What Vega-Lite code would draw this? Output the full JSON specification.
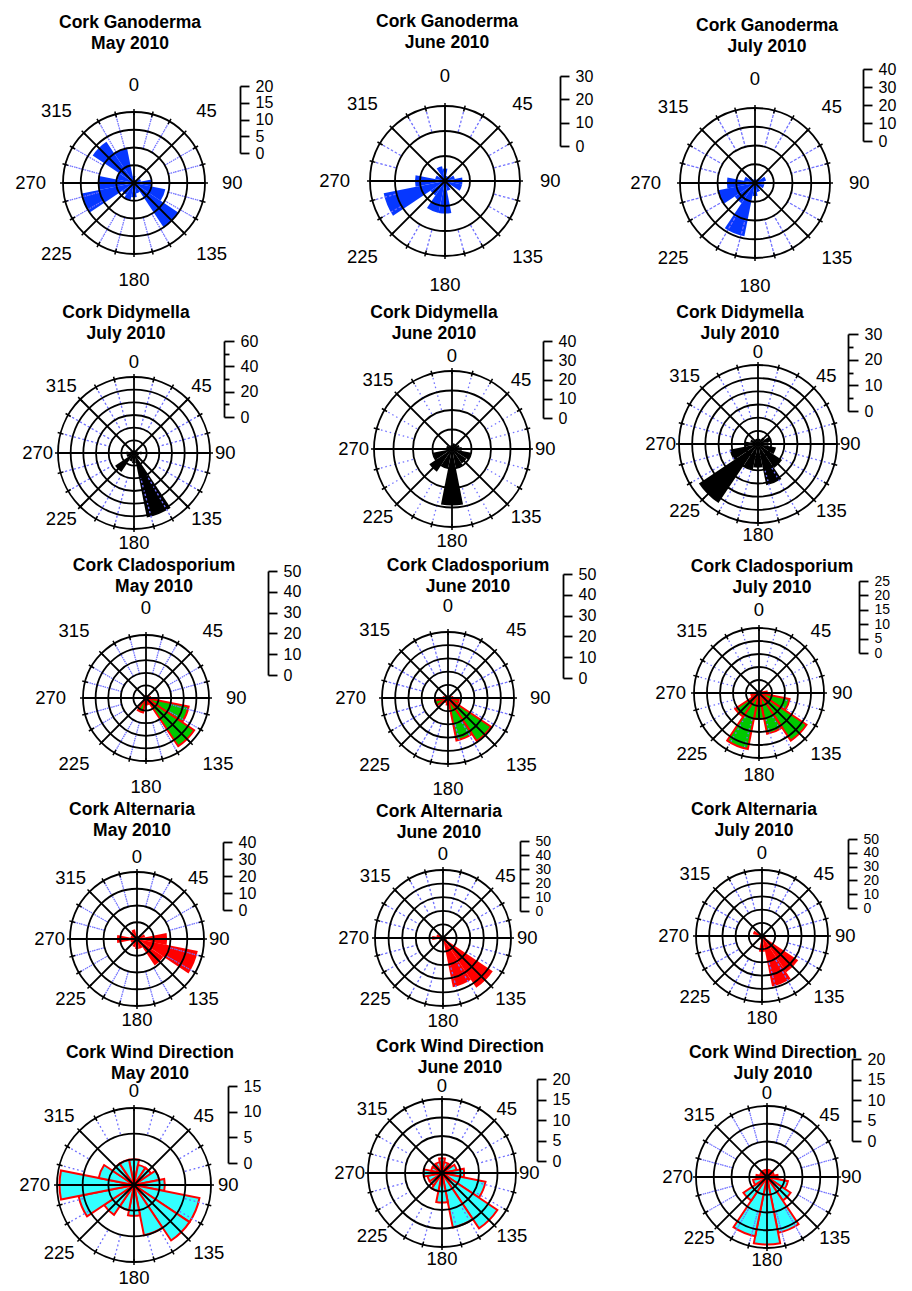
{
"$schema": "https://vega.github.io/schema/vega-lite/v6.json",
"padding": {"left": 12, "top": 12, "right": 2, "bottom": 0},
"config": {
  "font": "Liberation Sans",
  "view": {"stroke": null},
  "title": {"fontSize": 17.5, "fontWeight": "bold", "lineHeight": 21, "anchor": "middle", "frame": "group", "color": "black"},
  "axis": {"domainColor": "black", "domainWidth": 1.8, "tickColor": "black", "tickWidth": 1.8, "tickSize": 9, "labelFontSize": 16, "labelColor": "black", "labelPadding": 6, "labelOverlap": false, "labelFlush": false, "grid": false}
},
"datasets": {
  "major": [{"deg":0},{"deg":45},{"deg":90},{"deg":135},{"deg":180},{"deg":225},{"deg":270},{"deg":315}],
  "minor": [{"deg":15},{"deg":30},{"deg":60},{"deg":75},{"deg":105},{"deg":120},{"deg":150},{"deg":165},{"deg":195},{"deg":210},{"deg":240},{"deg":255},{"deg":285},{"deg":300},{"deg":330},{"deg":345}],
  "ticks": [{"deg":0},{"deg":15},{"deg":30},{"deg":45},{"deg":60},{"deg":75},{"deg":90},{"deg":105},{"deg":120},{"deg":135},{"deg":150},{"deg":165},{"deg":180},{"deg":195},{"deg":210},{"deg":225},{"deg":240},{"deg":255},{"deg":270},{"deg":285},{"deg":300},{"deg":315},{"deg":330},{"deg":345}]
},
"columns": 3,
"spacing": 0,
"bounds": "flush",
"align": "each",
"concat": [
{"width":244,"height":252,"title":{"text":["Cork Ganoderma","May 2010"],"offset":5,"dx":-4},"layer":[
{"data":{"values":[{"from":-11.25,"to":11.25,"count":2},{"from":11.25,"to":33.75,"count":1},{"from":33.75,"to":56.25,"count":1},{"from":56.25,"to":78.75,"count":2},{"from":78.75,"to":101.25,"count":5},{"from":101.25,"to":123.75,"count":9},{"from":123.75,"to":146.25,"count":15},{"from":146.25,"to":168.75,"count":3},{"from":168.75,"to":191.25,"count":4},{"from":191.25,"to":213.75,"count":5},{"from":213.75,"to":236.25,"count":4},{"from":236.25,"to":258.75,"count":15},{"from":258.75,"to":281.25,"count":10},{"from":281.25,"to":303.75,"count":5},{"from":303.75,"to":326.25,"count":14},{"from":326.25,"to":348.75,"count":10}]},"mark":{"type":"arc","fill":"#0637ff","stroke":null},"encoding":{"theta":{"field":"from","type":"quantitative","scale":{"type":"linear","domain":[0,360],"range":[0,6.283185307179586],"nice":false,"zero":false},"stack":null},"theta2":{"field":"to"},"radius":{"field":"count","type":"quantitative","stack":null,"scale":{"type":"linear","domain":[0,20],"range":[0,71],"nice":false,"zero":true}}}},
{"data":{"name":"minor"},"mark":{"type":"arc","fill":"transparent","stroke":"#7070ff","strokeWidth":1.3,"strokeDash":[1.5,3]},"encoding":{"theta":{"field":"deg","type":"quantitative","scale":{"type":"linear","domain":[0,360],"range":[0,6.283185307179586],"nice":false,"zero":false},"stack":null},"theta2":{"field":"deg"},"radius":{"datum":20,"type":"quantitative","stack":null,"scale":{"type":"linear","domain":[0,20],"range":[0,71],"nice":false,"zero":true}},"radius2":{"datum":10}}},
{"data":{"values":[{"ring":5},{"ring":10},{"ring":15},{"ring":20}]},"mark":{"type":"arc","fill":"transparent","stroke":"black","strokeWidth":1.8},"encoding":{"theta":{"datum":0,"type":"quantitative","stack":null,"scale":{"type":"linear","domain":[0,360],"range":[0,6.283185307179586],"nice":false,"zero":false}},"theta2":{"datum":360},"radius":{"field":"ring","type":"quantitative","stack":null,"scale":{"type":"linear","domain":[0,20],"range":[0,71],"nice":false,"zero":true}}}},
{"data":{"name":"major"},"mark":{"type":"arc","fill":"transparent","stroke":"black","strokeWidth":1.8},"encoding":{"theta":{"field":"deg","type":"quantitative","scale":{"type":"linear","domain":[0,360],"range":[0,6.283185307179586],"nice":false,"zero":false},"stack":null},"theta2":{"field":"deg"},"radius":{"datum":20,"type":"quantitative","stack":null,"scale":{"type":"linear","domain":[0,20],"range":[0,71],"nice":false,"zero":true}},"radius2":{"datum":0}}},
{"data":{"name":"ticks"},"mark":{"type":"arc","fill":"transparent","stroke":"black","strokeWidth":1.5,"radiusOffset":3,"radius2Offset":-3},"encoding":{"theta":{"field":"deg","type":"quantitative","scale":{"type":"linear","domain":[0,360],"range":[0,6.283185307179586],"nice":false,"zero":false},"stack":null},"theta2":{"field":"deg"},"radius":{"datum":20,"type":"quantitative","stack":null,"scale":{"type":"linear","domain":[0,20],"range":[0,71],"nice":false,"zero":true}},"radius2":{"datum":20}}},
{"data":{"name":"major"},"mark":{"type":"text","fontSize":18.5,"color":"black","radiusOffset":17,"align":{"expr":"datum.deg == 0 || datum.deg == 180 ? 'center' : (datum.deg < 180 ? 'left' : 'right')"},"baseline":{"expr":"datum.deg == 90 || datum.deg == 270 ? 'middle' : (datum.deg > 90 && datum.deg < 270 ? 'top' : 'bottom')"}},"encoding":{"theta":{"field":"deg","type":"quantitative","scale":{"type":"linear","domain":[0,360],"range":[0,6.283185307179586],"nice":false,"zero":false},"stack":null},"radius":{"datum":20,"type":"quantitative","stack":null,"scale":{"type":"linear","domain":[0,20],"range":[0,71],"nice":false,"zero":true}},"text":{"field":"deg","type":"nominal"}}},
{"data":{"values":[{"v":0}]},"mark":{"type":"point","opacity":0},"encoding":{"y":{"field":"v","type":"quantitative","scale":{"domain":[0,20],"range":[96,29],"nice":false,"zero":false},"axis":{"orient":"right","offset":-16,"values":[0,5,10,15,20],"title":null}}}}
]},
{"width":330,"height":248,"title":{"text":["Cork Ganoderma","June 2010"],"offset":6,"dx":2},"layer":[
{"data":{"values":[{"from":-11.25,"to":11.25,"count":5},{"from":11.25,"to":33.75,"count":2},{"from":33.75,"to":56.25,"count":2},{"from":56.25,"to":78.75,"count":4},{"from":78.75,"to":101.25,"count":7},{"from":101.25,"to":123.75,"count":7},{"from":123.75,"to":146.25,"count":3},{"from":146.25,"to":168.75,"count":4},{"from":168.75,"to":191.25,"count":13},{"from":191.25,"to":213.75,"count":13},{"from":213.75,"to":236.25,"count":7},{"from":236.25,"to":258.75,"count":25},{"from":258.75,"to":281.25,"count":12},{"from":281.25,"to":303.75,"count":4},{"from":303.75,"to":326.25,"count":3},{"from":326.25,"to":348.75,"count":6}]},"mark":{"type":"arc","fill":"#0637ff","stroke":null},"encoding":{"theta":{"field":"from","type":"quantitative","scale":{"type":"linear","domain":[0,360],"range":[0,6.283185307179586],"nice":false,"zero":false},"stack":null},"theta2":{"field":"to"},"radius":{"field":"count","type":"quantitative","stack":null,"scale":{"type":"linear","domain":[0,30],"range":[0,75],"nice":false,"zero":true}}}},
{"data":{"name":"minor"},"mark":{"type":"arc","fill":"transparent","stroke":"#7070ff","strokeWidth":1.3,"strokeDash":[1.5,3]},"encoding":{"theta":{"field":"deg","type":"quantitative","scale":{"type":"linear","domain":[0,360],"range":[0,6.283185307179586],"nice":false,"zero":false},"stack":null},"theta2":{"field":"deg"},"radius":{"datum":30,"type":"quantitative","stack":null,"scale":{"type":"linear","domain":[0,30],"range":[0,75],"nice":false,"zero":true}},"radius2":{"datum":20}}},
{"data":{"values":[{"ring":10},{"ring":20},{"ring":30}]},"mark":{"type":"arc","fill":"transparent","stroke":"black","strokeWidth":1.8},"encoding":{"theta":{"datum":0,"type":"quantitative","stack":null,"scale":{"type":"linear","domain":[0,360],"range":[0,6.283185307179586],"nice":false,"zero":false}},"theta2":{"datum":360},"radius":{"field":"ring","type":"quantitative","stack":null,"scale":{"type":"linear","domain":[0,30],"range":[0,75],"nice":false,"zero":true}}}},
{"data":{"name":"major"},"mark":{"type":"arc","fill":"transparent","stroke":"black","strokeWidth":1.8},"encoding":{"theta":{"field":"deg","type":"quantitative","scale":{"type":"linear","domain":[0,360],"range":[0,6.283185307179586],"nice":false,"zero":false},"stack":null},"theta2":{"field":"deg"},"radius":{"datum":30,"type":"quantitative","stack":null,"scale":{"type":"linear","domain":[0,30],"range":[0,75],"nice":false,"zero":true}},"radius2":{"datum":0}}},
{"data":{"name":"ticks"},"mark":{"type":"arc","fill":"transparent","stroke":"black","strokeWidth":1.5,"radiusOffset":3,"radius2Offset":-3},"encoding":{"theta":{"field":"deg","type":"quantitative","scale":{"type":"linear","domain":[0,360],"range":[0,6.283185307179586],"nice":false,"zero":false},"stack":null},"theta2":{"field":"deg"},"radius":{"datum":30,"type":"quantitative","stack":null,"scale":{"type":"linear","domain":[0,30],"range":[0,75],"nice":false,"zero":true}},"radius2":{"datum":30}}},
{"data":{"name":"major"},"mark":{"type":"text","fontSize":18.5,"color":"black","radiusOffset":20,"align":{"expr":"datum.deg == 0 || datum.deg == 180 ? 'center' : (datum.deg < 180 ? 'left' : 'right')"},"baseline":{"expr":"datum.deg == 90 || datum.deg == 270 ? 'middle' : (datum.deg > 90 && datum.deg < 270 ? 'top' : 'bottom')"}},"encoding":{"theta":{"field":"deg","type":"quantitative","scale":{"type":"linear","domain":[0,360],"range":[0,6.283185307179586],"nice":false,"zero":false},"stack":null},"radius":{"datum":30,"type":"quantitative","stack":null,"scale":{"type":"linear","domain":[0,30],"range":[0,75],"nice":false,"zero":true}},"text":{"field":"deg","type":"nominal"}}},
{"data":{"values":[{"v":0}]},"mark":{"type":"point","opacity":0},"encoding":{"y":{"field":"v","type":"quantitative","scale":{"domain":[0,30],"range":[89,19],"nice":false,"zero":false},"axis":{"orient":"right","offset":-50,"values":[0,10,20,30],"title":null}}}}
]},
{"width":262,"height":252,"title":{"text":["Cork Ganoderma","July 2010"],"offset":2,"dx":12},"layer":[
{"data":{"values":[{"from":-11.25,"to":11.25,"count":2},{"from":11.25,"to":33.75,"count":2},{"from":33.75,"to":56.25,"count":3},{"from":56.25,"to":78.75,"count":6},{"from":78.75,"to":101.25,"count":5},{"from":101.25,"to":123.75,"count":5},{"from":123.75,"to":146.25,"count":3},{"from":146.25,"to":168.75,"count":5},{"from":168.75,"to":191.25,"count":7},{"from":191.25,"to":213.75,"count":29},{"from":213.75,"to":236.25,"count":13},{"from":236.25,"to":258.75,"count":20},{"from":258.75,"to":281.25,"count":15},{"from":281.25,"to":303.75,"count":6},{"from":303.75,"to":326.25,"count":4},{"from":326.25,"to":348.75,"count":2}]},"mark":{"type":"arc","fill":"#0637ff","stroke":null},"encoding":{"theta":{"field":"from","type":"quantitative","scale":{"type":"linear","domain":[0,360],"range":[0,6.283185307179586],"nice":false,"zero":false},"stack":null},"theta2":{"field":"to"},"radius":{"field":"count","type":"quantitative","stack":null,"scale":{"type":"linear","domain":[0,40],"range":[0,75],"nice":false,"zero":true}}}},
{"data":{"name":"minor"},"mark":{"type":"arc","fill":"transparent","stroke":"#7070ff","strokeWidth":1.3,"strokeDash":[1.5,3]},"encoding":{"theta":{"field":"deg","type":"quantitative","scale":{"type":"linear","domain":[0,360],"range":[0,6.283185307179586],"nice":false,"zero":false},"stack":null},"theta2":{"field":"deg"},"radius":{"datum":40,"type":"quantitative","stack":null,"scale":{"type":"linear","domain":[0,40],"range":[0,75],"nice":false,"zero":true}},"radius2":{"datum":20}}},
{"data":{"values":[{"ring":10},{"ring":20},{"ring":30},{"ring":40}]},"mark":{"type":"arc","fill":"transparent","stroke":"black","strokeWidth":1.8},"encoding":{"theta":{"datum":0,"type":"quantitative","stack":null,"scale":{"type":"linear","domain":[0,360],"range":[0,6.283185307179586],"nice":false,"zero":false}},"theta2":{"datum":360},"radius":{"field":"ring","type":"quantitative","stack":null,"scale":{"type":"linear","domain":[0,40],"range":[0,75],"nice":false,"zero":true}}}},
{"data":{"name":"major"},"mark":{"type":"arc","fill":"transparent","stroke":"black","strokeWidth":1.8},"encoding":{"theta":{"field":"deg","type":"quantitative","scale":{"type":"linear","domain":[0,360],"range":[0,6.283185307179586],"nice":false,"zero":false},"stack":null},"theta2":{"field":"deg"},"radius":{"datum":40,"type":"quantitative","stack":null,"scale":{"type":"linear","domain":[0,40],"range":[0,75],"nice":false,"zero":true}},"radius2":{"datum":0}}},
{"data":{"name":"ticks"},"mark":{"type":"arc","fill":"transparent","stroke":"black","strokeWidth":1.5,"radiusOffset":3,"radius2Offset":-3},"encoding":{"theta":{"field":"deg","type":"quantitative","scale":{"type":"linear","domain":[0,360],"range":[0,6.283185307179586],"nice":false,"zero":false},"stack":null},"theta2":{"field":"deg"},"radius":{"datum":40,"type":"quantitative","stack":null,"scale":{"type":"linear","domain":[0,40],"range":[0,75],"nice":false,"zero":true}},"radius2":{"datum":40}}},
{"data":{"name":"major"},"mark":{"type":"text","fontSize":18.5,"color":"black","radiusOffset":19,"align":{"expr":"datum.deg == 0 || datum.deg == 180 ? 'center' : (datum.deg < 180 ? 'left' : 'right')"},"baseline":{"expr":"datum.deg == 90 || datum.deg == 270 ? 'middle' : (datum.deg > 90 && datum.deg < 270 ? 'top' : 'bottom')"}},"encoding":{"theta":{"field":"deg","type":"quantitative","scale":{"type":"linear","domain":[0,360],"range":[0,6.283185307179586],"nice":false,"zero":false},"stack":null},"radius":{"datum":40,"type":"quantitative","stack":null,"scale":{"type":"linear","domain":[0,40],"range":[0,75],"nice":false,"zero":true}},"text":{"field":"deg","type":"nominal"}}},
{"data":{"values":[{"v":0}]},"mark":{"type":"point","opacity":0},"encoding":{"y":{"field":"v","type":"quantitative","scale":{"domain":[0,40],"range":[84,12],"nice":false,"zero":false},"axis":{"orient":"right","offset":-23,"values":[0,10,20,30,40],"title":null}}}}
]},
{"width":244,"height":288,"title":{"text":["Cork Didymella","July 2010"],"offset":-33,"dx":-8},"layer":[
{"data":{"values":[{"from":-11.25,"to":11.25,"count":2},{"from":11.25,"to":33.75,"count":2},{"from":33.75,"to":56.25,"count":2},{"from":56.25,"to":78.75,"count":3},{"from":78.75,"to":101.25,"count":6},{"from":101.25,"to":123.75,"count":4},{"from":123.75,"to":146.25,"count":6},{"from":146.25,"to":168.75,"count":52},{"from":168.75,"to":191.25,"count":8},{"from":191.25,"to":213.75,"count":7},{"from":213.75,"to":236.25,"count":18},{"from":236.25,"to":258.75,"count":6},{"from":258.75,"to":281.25,"count":6},{"from":281.25,"to":303.75,"count":3},{"from":303.75,"to":326.25,"count":2},{"from":326.25,"to":348.75,"count":2}]},"mark":{"type":"arc","fill":"black","stroke":null},"encoding":{"theta":{"field":"from","type":"quantitative","scale":{"type":"linear","domain":[0,360],"range":[0,6.283185307179586],"nice":false,"zero":false},"stack":null},"theta2":{"field":"to"},"radius":{"field":"count","type":"quantitative","stack":null,"scale":{"type":"linear","domain":[0,60],"range":[0,76],"nice":false,"zero":true}}}},
{"data":{"name":"minor"},"mark":{"type":"arc","fill":"transparent","stroke":"#7070ff","strokeWidth":1.3,"strokeDash":[1.5,3]},"encoding":{"theta":{"field":"deg","type":"quantitative","scale":{"type":"linear","domain":[0,360],"range":[0,6.283185307179586],"nice":false,"zero":false},"stack":null},"theta2":{"field":"deg"},"radius":{"datum":60,"type":"quantitative","stack":null,"scale":{"type":"linear","domain":[0,60],"range":[0,76],"nice":false,"zero":true}},"radius2":{"datum":20}}},
{"data":{"values":[{"ring":10},{"ring":20},{"ring":30},{"ring":40},{"ring":50},{"ring":60}]},"mark":{"type":"arc","fill":"transparent","stroke":"black","strokeWidth":1.8},"encoding":{"theta":{"datum":0,"type":"quantitative","stack":null,"scale":{"type":"linear","domain":[0,360],"range":[0,6.283185307179586],"nice":false,"zero":false}},"theta2":{"datum":360},"radius":{"field":"ring","type":"quantitative","stack":null,"scale":{"type":"linear","domain":[0,60],"range":[0,76],"nice":false,"zero":true}}}},
{"data":{"name":"major"},"mark":{"type":"arc","fill":"transparent","stroke":"black","strokeWidth":1.8},"encoding":{"theta":{"field":"deg","type":"quantitative","scale":{"type":"linear","domain":[0,360],"range":[0,6.283185307179586],"nice":false,"zero":false},"stack":null},"theta2":{"field":"deg"},"radius":{"datum":60,"type":"quantitative","stack":null,"scale":{"type":"linear","domain":[0,60],"range":[0,76],"nice":false,"zero":true}},"radius2":{"datum":0}}},
{"data":{"name":"ticks"},"mark":{"type":"arc","fill":"transparent","stroke":"black","strokeWidth":1.5,"radiusOffset":3,"radius2Offset":-3},"encoding":{"theta":{"field":"deg","type":"quantitative","scale":{"type":"linear","domain":[0,360],"range":[0,6.283185307179586],"nice":false,"zero":false},"stack":null},"theta2":{"field":"deg"},"radius":{"datum":60,"type":"quantitative","stack":null,"scale":{"type":"linear","domain":[0,60],"range":[0,76],"nice":false,"zero":true}},"radius2":{"datum":60}}},
{"data":{"name":"major"},"mark":{"type":"text","fontSize":18.5,"color":"black","radiusOffset":5,"align":{"expr":"datum.deg == 0 || datum.deg == 180 ? 'center' : (datum.deg < 180 ? 'left' : 'right')"},"baseline":{"expr":"datum.deg == 90 || datum.deg == 270 ? 'middle' : (datum.deg > 90 && datum.deg < 270 ? 'top' : 'bottom')"}},"encoding":{"theta":{"field":"deg","type":"quantitative","scale":{"type":"linear","domain":[0,360],"range":[0,6.283185307179586],"nice":false,"zero":false},"stack":null},"radius":{"datum":60,"type":"quantitative","stack":null,"scale":{"type":"linear","domain":[0,60],"range":[0,76],"nice":false,"zero":true}},"text":{"field":"deg","type":"nominal"}}},
{"data":{"values":[{"v":0}]},"mark":{"type":"point","opacity":0},"encoding":{"y":{"field":"v","type":"quantitative","scale":{"domain":[0,60],"range":[108,32],"nice":false,"zero":false},"axis":{"orient":"right","offset":-32,"values":[0,10,20,30,40,50,60],"labelExpr":"datum.value % 20 == 0 ? datum.label : ''","tickSize":{"condition":{"test":"datum.value % 20 != 0","value":5},"value":10},"title":null}}}}
]},
{"width":344,"height":280,"title":{"text":["Cork Didymella","June 2010"],"offset":-33,"dx":-18},"layer":[
{"data":{"values":[{"from":-11.25,"to":11.25,"count":2},{"from":11.25,"to":33.75,"count":3},{"from":33.75,"to":56.25,"count":3},{"from":56.25,"to":78.75,"count":4},{"from":78.75,"to":101.25,"count":5},{"from":101.25,"to":123.75,"count":10},{"from":123.75,"to":146.25,"count":9},{"from":146.25,"to":168.75,"count":10},{"from":168.75,"to":191.25,"count":29},{"from":191.25,"to":213.75,"count":10},{"from":213.75,"to":236.25,"count":14},{"from":236.25,"to":258.75,"count":10},{"from":258.75,"to":281.25,"count":3},{"from":281.25,"to":303.75,"count":3},{"from":303.75,"to":326.25,"count":2},{"from":326.25,"to":348.75,"count":2}]},"mark":{"type":"arc","fill":"black","stroke":null},"encoding":{"theta":{"field":"from","type":"quantitative","scale":{"type":"linear","domain":[0,360],"range":[0,6.283185307179586],"nice":false,"zero":false},"stack":null},"theta2":{"field":"to"},"radius":{"field":"count","type":"quantitative","stack":null,"scale":{"type":"linear","domain":[0,40],"range":[0,78],"nice":false,"zero":true}}}},
{"data":{"name":"minor"},"mark":{"type":"arc","fill":"transparent","stroke":"#7070ff","strokeWidth":1.3,"strokeDash":[1.5,3]},"encoding":{"theta":{"field":"deg","type":"quantitative","scale":{"type":"linear","domain":[0,360],"range":[0,6.283185307179586],"nice":false,"zero":false},"stack":null},"theta2":{"field":"deg"},"radius":{"datum":40,"type":"quantitative","stack":null,"scale":{"type":"linear","domain":[0,40],"range":[0,78],"nice":false,"zero":true}},"radius2":{"datum":20}}},
{"data":{"values":[{"ring":10},{"ring":20},{"ring":30},{"ring":40}]},"mark":{"type":"arc","fill":"transparent","stroke":"black","strokeWidth":1.8},"encoding":{"theta":{"datum":0,"type":"quantitative","stack":null,"scale":{"type":"linear","domain":[0,360],"range":[0,6.283185307179586],"nice":false,"zero":false}},"theta2":{"datum":360},"radius":{"field":"ring","type":"quantitative","stack":null,"scale":{"type":"linear","domain":[0,40],"range":[0,78],"nice":false,"zero":true}}}},
{"data":{"name":"major"},"mark":{"type":"arc","fill":"transparent","stroke":"black","strokeWidth":1.8},"encoding":{"theta":{"field":"deg","type":"quantitative","scale":{"type":"linear","domain":[0,360],"range":[0,6.283185307179586],"nice":false,"zero":false},"stack":null},"theta2":{"field":"deg"},"radius":{"datum":40,"type":"quantitative","stack":null,"scale":{"type":"linear","domain":[0,40],"range":[0,78],"nice":false,"zero":true}},"radius2":{"datum":0}}},
{"data":{"name":"ticks"},"mark":{"type":"arc","fill":"transparent","stroke":"black","strokeWidth":1.5,"radiusOffset":3,"radius2Offset":-3},"encoding":{"theta":{"field":"deg","type":"quantitative","scale":{"type":"linear","domain":[0,360],"range":[0,6.283185307179586],"nice":false,"zero":false},"stack":null},"theta2":{"field":"deg"},"radius":{"datum":40,"type":"quantitative","stack":null,"scale":{"type":"linear","domain":[0,40],"range":[0,78],"nice":false,"zero":true}},"radius2":{"datum":40}}},
{"data":{"name":"major"},"mark":{"type":"text","fontSize":18.5,"color":"black","radiusOffset":5,"align":{"expr":"datum.deg == 0 || datum.deg == 180 ? 'center' : (datum.deg < 180 ? 'left' : 'right')"},"baseline":{"expr":"datum.deg == 90 || datum.deg == 270 ? 'middle' : (datum.deg > 90 && datum.deg < 270 ? 'top' : 'bottom')"}},"encoding":{"theta":{"field":"deg","type":"quantitative","scale":{"type":"linear","domain":[0,360],"range":[0,6.283185307179586],"nice":false,"zero":false},"stack":null},"radius":{"datum":40,"type":"quantitative","stack":null,"scale":{"type":"linear","domain":[0,40],"range":[0,78],"nice":false,"zero":true}},"text":{"field":"deg","type":"nominal"}}},
{"data":{"values":[{"v":0}]},"mark":{"type":"point","opacity":0},"encoding":{"y":{"field":"v","type":"quantitative","scale":{"domain":[0,40],"range":[109,32],"nice":false,"zero":false},"axis":{"orient":"right","offset":-81,"values":[0,10,20,30,40],"title":null}}}}
]},
{"width":268,"height":270,"title":{"text":["Cork Didymella","July 2010"],"offset":-33,"dx":-18},"layer":[
{"data":{"values":[{"from":-11.25,"to":11.25,"count":2},{"from":11.25,"to":33.75,"count":2},{"from":33.75,"to":56.25,"count":3},{"from":56.25,"to":78.75,"count":5},{"from":78.75,"to":101.25,"count":4},{"from":101.25,"to":123.75,"count":7},{"from":123.75,"to":146.25,"count":11},{"from":146.25,"to":168.75,"count":16},{"from":168.75,"to":191.25,"count":9},{"from":191.25,"to":213.75,"count":10},{"from":213.75,"to":236.25,"count":27},{"from":236.25,"to":258.75,"count":11},{"from":258.75,"to":281.25,"count":5},{"from":281.25,"to":303.75,"count":3},{"from":303.75,"to":326.25,"count":2},{"from":326.25,"to":348.75,"count":2}]},"mark":{"type":"arc","fill":"black","stroke":null},"encoding":{"theta":{"field":"from","type":"quantitative","scale":{"type":"linear","domain":[0,360],"range":[0,6.283185307179586],"nice":false,"zero":false},"stack":null},"theta2":{"field":"to"},"radius":{"field":"count","type":"quantitative","stack":null,"scale":{"type":"linear","domain":[0,30],"range":[0,79],"nice":false,"zero":true}}}},
{"data":{"name":"minor"},"mark":{"type":"arc","fill":"transparent","stroke":"#7070ff","strokeWidth":1.3,"strokeDash":[1.5,3]},"encoding":{"theta":{"field":"deg","type":"quantitative","scale":{"type":"linear","domain":[0,360],"range":[0,6.283185307179586],"nice":false,"zero":false},"stack":null},"theta2":{"field":"deg"},"radius":{"datum":30,"type":"quantitative","stack":null,"scale":{"type":"linear","domain":[0,30],"range":[0,79],"nice":false,"zero":true}},"radius2":{"datum":10}}},
{"data":{"values":[{"ring":5},{"ring":10},{"ring":15},{"ring":20},{"ring":25},{"ring":30}]},"mark":{"type":"arc","fill":"transparent","stroke":"black","strokeWidth":1.8},"encoding":{"theta":{"datum":0,"type":"quantitative","stack":null,"scale":{"type":"linear","domain":[0,360],"range":[0,6.283185307179586],"nice":false,"zero":false}},"theta2":{"datum":360},"radius":{"field":"ring","type":"quantitative","stack":null,"scale":{"type":"linear","domain":[0,30],"range":[0,79],"nice":false,"zero":true}}}},
{"data":{"name":"major"},"mark":{"type":"arc","fill":"transparent","stroke":"black","strokeWidth":1.8},"encoding":{"theta":{"field":"deg","type":"quantitative","scale":{"type":"linear","domain":[0,360],"range":[0,6.283185307179586],"nice":false,"zero":false},"stack":null},"theta2":{"field":"deg"},"radius":{"datum":30,"type":"quantitative","stack":null,"scale":{"type":"linear","domain":[0,30],"range":[0,79],"nice":false,"zero":true}},"radius2":{"datum":0}}},
{"data":{"name":"ticks"},"mark":{"type":"arc","fill":"transparent","stroke":"black","strokeWidth":1.5,"radiusOffset":3,"radius2Offset":-3},"encoding":{"theta":{"field":"deg","type":"quantitative","scale":{"type":"linear","domain":[0,360],"range":[0,6.283185307179586],"nice":false,"zero":false},"stack":null},"theta2":{"field":"deg"},"radius":{"datum":30,"type":"quantitative","stack":null,"scale":{"type":"linear","domain":[0,30],"range":[0,79],"nice":false,"zero":true}},"radius2":{"datum":30}}},
{"data":{"name":"major"},"mark":{"type":"text","fontSize":18.5,"color":"black","radiusOffset":3,"align":{"expr":"datum.deg == 0 || datum.deg == 180 ? 'center' : (datum.deg < 180 ? 'left' : 'right')"},"baseline":{"expr":"datum.deg == 90 || datum.deg == 270 ? 'middle' : (datum.deg > 90 && datum.deg < 270 ? 'top' : 'bottom')"}},"encoding":{"theta":{"field":"deg","type":"quantitative","scale":{"type":"linear","domain":[0,360],"range":[0,6.283185307179586],"nice":false,"zero":false},"stack":null},"radius":{"datum":30,"type":"quantitative","stack":null,"scale":{"type":"linear","domain":[0,30],"range":[0,79],"nice":false,"zero":true}},"text":{"field":"deg","type":"nominal"}}},
{"data":{"values":[{"v":0}]},"mark":{"type":"point","opacity":0},"encoding":{"y":{"field":"v","type":"quantitative","scale":{"domain":[0,30],"range":[102,25],"nice":false,"zero":false},"axis":{"orient":"right","offset":-44,"values":[0,5,10,15,20,25,30],"labelExpr":"datum.value % 10 == 0 ? datum.label : ''","tickSize":{"condition":{"test":"datum.value % 10 != 0","value":5},"value":10},"title":null}}}}
]},
{"width":268,"height":202,"title":{"text":["Cork Cladosporium","May 2010"],"offset":-32,"dx":8},"layer":[
{"data":{"values":[{"from":-11.25,"to":11.25,"count":1},{"from":11.25,"to":33.75,"count":0},{"from":33.75,"to":56.25,"count":0},{"from":56.25,"to":78.75,"count":1},{"from":78.75,"to":101.25,"count":2},{"from":101.25,"to":123.75,"count":20.7},{"from":123.75,"to":146.25,"count":27.6},{"from":146.25,"to":168.75,"count":3},{"from":168.75,"to":191.25,"count":3},{"from":191.25,"to":213.75,"count":7},{"from":213.75,"to":236.25,"count":1},{"from":236.25,"to":258.75,"count":1},{"from":258.75,"to":281.25,"count":1},{"from":281.25,"to":303.75,"count":0},{"from":303.75,"to":326.25,"count":0},{"from":326.25,"to":348.75,"count":0}]},"mark":{"type":"arc","fill":"#00c800","stroke":"#ff0000","strokeWidth":2},"encoding":{"theta":{"field":"from","type":"quantitative","scale":{"type":"linear","domain":[0,360],"range":[0,6.283185307179586],"nice":false,"zero":false},"stack":null},"theta2":{"field":"to"},"radius":{"field":"count","type":"quantitative","stack":null,"scale":{"type":"linear","domain":[0,30],"range":[0,63],"nice":false,"zero":true}}}},
{"data":{"name":"minor"},"mark":{"type":"arc","fill":"transparent","stroke":"#7070ff","strokeWidth":1.3,"strokeDash":[1.5,3]},"encoding":{"theta":{"field":"deg","type":"quantitative","scale":{"type":"linear","domain":[0,360],"range":[0,6.283185307179586],"nice":false,"zero":false},"stack":null},"theta2":{"field":"deg"},"radius":{"datum":30,"type":"quantitative","stack":null,"scale":{"type":"linear","domain":[0,30],"range":[0,63],"nice":false,"zero":true}},"radius2":{"datum":12}}},
{"data":{"values":[{"ring":6},{"ring":12},{"ring":18},{"ring":24},{"ring":30}]},"mark":{"type":"arc","fill":"transparent","stroke":"black","strokeWidth":1.8},"encoding":{"theta":{"datum":0,"type":"quantitative","stack":null,"scale":{"type":"linear","domain":[0,360],"range":[0,6.283185307179586],"nice":false,"zero":false}},"theta2":{"datum":360},"radius":{"field":"ring","type":"quantitative","stack":null,"scale":{"type":"linear","domain":[0,30],"range":[0,63],"nice":false,"zero":true}}}},
{"data":{"name":"major"},"mark":{"type":"arc","fill":"transparent","stroke":"black","strokeWidth":1.8},"encoding":{"theta":{"field":"deg","type":"quantitative","scale":{"type":"linear","domain":[0,360],"range":[0,6.283185307179586],"nice":false,"zero":false},"stack":null},"theta2":{"field":"deg"},"radius":{"datum":30,"type":"quantitative","stack":null,"scale":{"type":"linear","domain":[0,30],"range":[0,63],"nice":false,"zero":true}},"radius2":{"datum":0}}},
{"data":{"name":"ticks"},"mark":{"type":"arc","fill":"transparent","stroke":"black","strokeWidth":1.5,"radiusOffset":3,"radius2Offset":-3},"encoding":{"theta":{"field":"deg","type":"quantitative","scale":{"type":"linear","domain":[0,360],"range":[0,6.283185307179586],"nice":false,"zero":false},"stack":null},"theta2":{"field":"deg"},"radius":{"datum":30,"type":"quantitative","stack":null,"scale":{"type":"linear","domain":[0,30],"range":[0,63],"nice":false,"zero":true}},"radius2":{"datum":30}}},
{"data":{"name":"major"},"mark":{"type":"text","fontSize":18.5,"color":"black","radiusOffset":17,"align":{"expr":"datum.deg == 0 || datum.deg == 180 ? 'center' : (datum.deg < 180 ? 'left' : 'right')"},"baseline":{"expr":"datum.deg == 90 || datum.deg == 270 ? 'middle' : (datum.deg > 90 && datum.deg < 270 ? 'top' : 'bottom')"}},"encoding":{"theta":{"field":"deg","type":"quantitative","scale":{"type":"linear","domain":[0,360],"range":[0,6.283185307179586],"nice":false,"zero":false},"stack":null},"radius":{"datum":30,"type":"quantitative","stack":null,"scale":{"type":"linear","domain":[0,30],"range":[0,63],"nice":false,"zero":true}},"text":{"field":"deg","type":"nominal"}}},
{"data":{"values":[{"v":0}]},"mark":{"type":"point","opacity":0},"encoding":{"y":{"field":"v","type":"quantitative","scale":{"domain":[0,50],"range":[78,-26],"nice":false,"zero":false},"axis":{"orient":"right","offset":-12,"values":[0,10,20,30,40,50],"title":null}}}}
]},
{"width":336,"height":202,"title":{"text":["Cork Cladosporium","June 2010"],"offset":-29,"dx":20},"layer":[
{"data":{"values":[{"from":-11.25,"to":11.25,"count":0},{"from":11.25,"to":33.75,"count":0},{"from":33.75,"to":56.25,"count":0},{"from":56.25,"to":78.75,"count":1},{"from":78.75,"to":101.25,"count":2},{"from":101.25,"to":123.75,"count":5},{"from":123.75,"to":146.25,"count":23.5},{"from":146.25,"to":168.75,"count":19.7},{"from":168.75,"to":191.25,"count":3},{"from":191.25,"to":213.75,"count":1},{"from":213.75,"to":236.25,"count":2},{"from":236.25,"to":258.75,"count":6},{"from":258.75,"to":281.25,"count":2},{"from":281.25,"to":303.75,"count":1},{"from":303.75,"to":326.25,"count":0},{"from":326.25,"to":348.75,"count":0}]},"mark":{"type":"arc","fill":"#00c800","stroke":"#ff0000","strokeWidth":2},"encoding":{"theta":{"field":"from","type":"quantitative","scale":{"type":"linear","domain":[0,360],"range":[0,6.283185307179586],"nice":false,"zero":false},"stack":null},"theta2":{"field":"to"},"radius":{"field":"count","type":"quantitative","stack":null,"scale":{"type":"linear","domain":[0,30],"range":[0,66],"nice":false,"zero":true}}}},
{"data":{"name":"minor"},"mark":{"type":"arc","fill":"transparent","stroke":"#7070ff","strokeWidth":1.3,"strokeDash":[1.5,3]},"encoding":{"theta":{"field":"deg","type":"quantitative","scale":{"type":"linear","domain":[0,360],"range":[0,6.283185307179586],"nice":false,"zero":false},"stack":null},"theta2":{"field":"deg"},"radius":{"datum":30,"type":"quantitative","stack":null,"scale":{"type":"linear","domain":[0,30],"range":[0,66],"nice":false,"zero":true}},"radius2":{"datum":12}}},
{"data":{"values":[{"ring":6},{"ring":12},{"ring":18},{"ring":24},{"ring":30}]},"mark":{"type":"arc","fill":"transparent","stroke":"black","strokeWidth":1.8},"encoding":{"theta":{"datum":0,"type":"quantitative","stack":null,"scale":{"type":"linear","domain":[0,360],"range":[0,6.283185307179586],"nice":false,"zero":false}},"theta2":{"datum":360},"radius":{"field":"ring","type":"quantitative","stack":null,"scale":{"type":"linear","domain":[0,30],"range":[0,66],"nice":false,"zero":true}}}},
{"data":{"name":"major"},"mark":{"type":"arc","fill":"transparent","stroke":"black","strokeWidth":1.8},"encoding":{"theta":{"field":"deg","type":"quantitative","scale":{"type":"linear","domain":[0,360],"range":[0,6.283185307179586],"nice":false,"zero":false},"stack":null},"theta2":{"field":"deg"},"radius":{"datum":30,"type":"quantitative","stack":null,"scale":{"type":"linear","domain":[0,30],"range":[0,66],"nice":false,"zero":true}},"radius2":{"datum":0}}},
{"data":{"name":"ticks"},"mark":{"type":"arc","fill":"transparent","stroke":"black","strokeWidth":1.5,"radiusOffset":3,"radius2Offset":-3},"encoding":{"theta":{"field":"deg","type":"quantitative","scale":{"type":"linear","domain":[0,360],"range":[0,6.283185307179586],"nice":false,"zero":false},"stack":null},"theta2":{"field":"deg"},"radius":{"datum":30,"type":"quantitative","stack":null,"scale":{"type":"linear","domain":[0,30],"range":[0,66],"nice":false,"zero":true}},"radius2":{"datum":30}}},
{"data":{"name":"major"},"mark":{"type":"text","fontSize":18.5,"color":"black","radiusOffset":16,"align":{"expr":"datum.deg == 0 || datum.deg == 180 ? 'center' : (datum.deg < 180 ? 'left' : 'right')"},"baseline":{"expr":"datum.deg == 90 || datum.deg == 270 ? 'middle' : (datum.deg > 90 && datum.deg < 270 ? 'top' : 'bottom')"}},"encoding":{"theta":{"field":"deg","type":"quantitative","scale":{"type":"linear","domain":[0,360],"range":[0,6.283185307179586],"nice":false,"zero":false},"stack":null},"radius":{"datum":30,"type":"quantitative","stack":null,"scale":{"type":"linear","domain":[0,30],"range":[0,66],"nice":false,"zero":true}},"text":{"field":"deg","type":"nominal"}}},
{"data":{"values":[{"v":0}]},"mark":{"type":"point","opacity":0},"encoding":{"y":{"field":"v","type":"quantitative","scale":{"domain":[0,50],"range":[81,-23],"nice":false,"zero":false},"axis":{"orient":"right","offset":-53,"values":[0,10,20,30,40,50],"title":null}}}}
]},
{"width":270,"height":192,"title":{"text":["Cork Cladosporium","July 2010"],"offset":-22,"dx":13},"layer":[
{"data":{"values":[{"from":-11.25,"to":11.25,"count":0},{"from":11.25,"to":33.75,"count":0},{"from":33.75,"to":56.25,"count":0},{"from":56.25,"to":78.75,"count":1},{"from":78.75,"to":101.25,"count":3},{"from":101.25,"to":123.75,"count":12},{"from":123.75,"to":146.25,"count":22},{"from":146.25,"to":168.75,"count":16},{"from":168.75,"to":191.25,"count":10},{"from":191.25,"to":213.75,"count":22},{"from":213.75,"to":236.25,"count":11},{"from":236.25,"to":258.75,"count":3},{"from":258.75,"to":281.25,"count":1},{"from":281.25,"to":303.75,"count":0},{"from":303.75,"to":326.25,"count":0},{"from":326.25,"to":348.75,"count":0}]},"mark":{"type":"arc","fill":"#00c800","stroke":"#ff0000","strokeWidth":2},"encoding":{"theta":{"field":"from","type":"quantitative","scale":{"type":"linear","domain":[0,360],"range":[0,6.283185307179586],"nice":false,"zero":false},"stack":null},"theta2":{"field":"to"},"radius":{"field":"count","type":"quantitative","stack":null,"scale":{"type":"linear","domain":[0,25],"range":[0,65],"nice":false,"zero":true}}}},
{"data":{"name":"minor"},"mark":{"type":"arc","fill":"transparent","stroke":"#7070ff","strokeWidth":1.3,"strokeDash":[1.5,3]},"encoding":{"theta":{"field":"deg","type":"quantitative","scale":{"type":"linear","domain":[0,360],"range":[0,6.283185307179586],"nice":false,"zero":false},"stack":null},"theta2":{"field":"deg"},"radius":{"datum":25,"type":"quantitative","stack":null,"scale":{"type":"linear","domain":[0,25],"range":[0,65],"nice":false,"zero":true}},"radius2":{"datum":10}}},
{"data":{"values":[{"ring":5},{"ring":10},{"ring":15},{"ring":20},{"ring":25}]},"mark":{"type":"arc","fill":"transparent","stroke":"black","strokeWidth":1.8},"encoding":{"theta":{"datum":0,"type":"quantitative","stack":null,"scale":{"type":"linear","domain":[0,360],"range":[0,6.283185307179586],"nice":false,"zero":false}},"theta2":{"datum":360},"radius":{"field":"ring","type":"quantitative","stack":null,"scale":{"type":"linear","domain":[0,25],"range":[0,65],"nice":false,"zero":true}}}},
{"data":{"name":"major"},"mark":{"type":"arc","fill":"transparent","stroke":"black","strokeWidth":1.8},"encoding":{"theta":{"field":"deg","type":"quantitative","scale":{"type":"linear","domain":[0,360],"range":[0,6.283185307179586],"nice":false,"zero":false},"stack":null},"theta2":{"field":"deg"},"radius":{"datum":25,"type":"quantitative","stack":null,"scale":{"type":"linear","domain":[0,25],"range":[0,65],"nice":false,"zero":true}},"radius2":{"datum":0}}},
{"data":{"name":"ticks"},"mark":{"type":"arc","fill":"transparent","stroke":"black","strokeWidth":1.5,"radiusOffset":3,"radius2Offset":-3},"encoding":{"theta":{"field":"deg","type":"quantitative","scale":{"type":"linear","domain":[0,360],"range":[0,6.283185307179586],"nice":false,"zero":false},"stack":null},"theta2":{"field":"deg"},"radius":{"datum":25,"type":"quantitative","stack":null,"scale":{"type":"linear","domain":[0,25],"range":[0,65],"nice":false,"zero":true}},"radius2":{"datum":25}}},
{"data":{"name":"major"},"mark":{"type":"text","fontSize":18.5,"color":"black","radiusOffset":8,"align":{"expr":"datum.deg == 0 || datum.deg == 180 ? 'center' : (datum.deg < 180 ? 'left' : 'right')"},"baseline":{"expr":"datum.deg == 90 || datum.deg == 270 ? 'middle' : (datum.deg > 90 && datum.deg < 270 ? 'top' : 'bottom')"}},"encoding":{"theta":{"field":"deg","type":"quantitative","scale":{"type":"linear","domain":[0,360],"range":[0,6.283185307179586],"nice":false,"zero":false},"stack":null},"radius":{"datum":25,"type":"quantitative","stack":null,"scale":{"type":"linear","domain":[0,25],"range":[0,65],"nice":false,"zero":true}},"text":{"field":"deg","type":"nominal"}}},
{"data":{"values":[{"v":0}]},"mark":{"type":"point","opacity":0},"encoding":{"y":{"field":"v","type":"quantitative","scale":{"domain":[0,25],"range":[56,-16],"nice":false,"zero":false},"axis":{"orient":"right","offset":-35,"values":[0,5,10,15,20,25],"labelFontSize":14,"title":null}}}}
]},
{"width":250,"height":280,"title":{"text":["Cork Alternaria","May 2010"],"offset":-40,"dx":-5},"layer":[
{"data":{"values":[{"from":-11.25,"to":11.25,"count":2},{"from":11.25,"to":33.75,"count":2},{"from":33.75,"to":56.25,"count":3},{"from":56.25,"to":78.75,"count":5},{"from":78.75,"to":101.25,"count":18},{"from":101.25,"to":123.75,"count":37},{"from":123.75,"to":146.25,"count":19},{"from":146.25,"to":168.75,"count":6},{"from":168.75,"to":191.25,"count":6},{"from":191.25,"to":213.75,"count":5},{"from":213.75,"to":236.25,"count":3},{"from":236.25,"to":258.75,"count":4},{"from":258.75,"to":281.25,"count":12},{"from":281.25,"to":303.75,"count":4},{"from":303.75,"to":326.25,"count":5},{"from":326.25,"to":348.75,"count":6}]},"mark":{"type":"arc","fill":"#ff0000","stroke":null},"encoding":{"theta":{"field":"from","type":"quantitative","scale":{"type":"linear","domain":[0,360],"range":[0,6.283185307179586],"nice":false,"zero":false},"stack":null},"theta2":{"field":"to"},"radius":{"field":"count","type":"quantitative","stack":null,"scale":{"type":"linear","domain":[0,40],"range":[0,67],"nice":false,"zero":true}}}},
{"data":{"name":"minor"},"mark":{"type":"arc","fill":"transparent","stroke":"#7070ff","strokeWidth":1.3,"strokeDash":[1.5,3]},"encoding":{"theta":{"field":"deg","type":"quantitative","scale":{"type":"linear","domain":[0,360],"range":[0,6.283185307179586],"nice":false,"zero":false},"stack":null},"theta2":{"field":"deg"},"radius":{"datum":40,"type":"quantitative","stack":null,"scale":{"type":"linear","domain":[0,40],"range":[0,67],"nice":false,"zero":true}},"radius2":{"datum":20}}},
{"data":{"values":[{"ring":10},{"ring":20},{"ring":30},{"ring":40}]},"mark":{"type":"arc","fill":"transparent","stroke":"black","strokeWidth":1.8},"encoding":{"theta":{"datum":0,"type":"quantitative","stack":null,"scale":{"type":"linear","domain":[0,360],"range":[0,6.283185307179586],"nice":false,"zero":false}},"theta2":{"datum":360},"radius":{"field":"ring","type":"quantitative","stack":null,"scale":{"type":"linear","domain":[0,40],"range":[0,67],"nice":false,"zero":true}}}},
{"data":{"name":"major"},"mark":{"type":"arc","fill":"transparent","stroke":"black","strokeWidth":1.8},"encoding":{"theta":{"field":"deg","type":"quantitative","scale":{"type":"linear","domain":[0,360],"range":[0,6.283185307179586],"nice":false,"zero":false},"stack":null},"theta2":{"field":"deg"},"radius":{"datum":40,"type":"quantitative","stack":null,"scale":{"type":"linear","domain":[0,40],"range":[0,67],"nice":false,"zero":true}},"radius2":{"datum":0}}},
{"data":{"name":"ticks"},"mark":{"type":"arc","fill":"transparent","stroke":"black","strokeWidth":1.5,"radiusOffset":3,"radius2Offset":-3},"encoding":{"theta":{"field":"deg","type":"quantitative","scale":{"type":"linear","domain":[0,360],"range":[0,6.283185307179586],"nice":false,"zero":false},"stack":null},"theta2":{"field":"deg"},"radius":{"datum":40,"type":"quantitative","stack":null,"scale":{"type":"linear","domain":[0,40],"range":[0,67],"nice":false,"zero":true}},"radius2":{"datum":40}}},
{"data":{"name":"major"},"mark":{"type":"text","fontSize":18.5,"color":"black","radiusOffset":5,"align":{"expr":"datum.deg == 0 || datum.deg == 180 ? 'center' : (datum.deg < 180 ? 'left' : 'right')"},"baseline":{"expr":"datum.deg == 90 || datum.deg == 270 ? 'middle' : (datum.deg > 90 && datum.deg < 270 ? 'top' : 'bottom')"}},"encoding":{"theta":{"field":"deg","type":"quantitative","scale":{"type":"linear","domain":[0,360],"range":[0,6.283185307179586],"nice":false,"zero":false},"stack":null},"radius":{"datum":40,"type":"quantitative","stack":null,"scale":{"type":"linear","domain":[0,40],"range":[0,67],"nice":false,"zero":true}},"text":{"field":"deg","type":"nominal"}}},
{"data":{"values":[{"v":0}]},"mark":{"type":"point","opacity":0},"encoding":{"y":{"field":"v","type":"quantitative","scale":{"domain":[0,40],"range":[111,43],"nice":false,"zero":false},"axis":{"orient":"right","offset":-39,"values":[0,10,20,30,40],"title":null}}}}
]},
{"width":326,"height":278,"title":{"text":["Cork Alternaria","June 2010"],"offset":-42,"dx":-4},"layer":[
{"data":{"values":[{"from":-11.25,"to":11.25,"count":0},{"from":11.25,"to":33.75,"count":0},{"from":33.75,"to":56.25,"count":0},{"from":56.25,"to":78.75,"count":1},{"from":78.75,"to":101.25,"count":2},{"from":101.25,"to":123.75,"count":3},{"from":123.75,"to":146.25,"count":44},{"from":146.25,"to":168.75,"count":37},{"from":168.75,"to":191.25,"count":3},{"from":191.25,"to":213.75,"count":2},{"from":213.75,"to":236.25,"count":2},{"from":236.25,"to":258.75,"count":3},{"from":258.75,"to":281.25,"count":8},{"from":281.25,"to":303.75,"count":5},{"from":303.75,"to":326.25,"count":2},{"from":326.25,"to":348.75,"count":1}]},"mark":{"type":"arc","fill":"#ff0000","stroke":null},"encoding":{"theta":{"field":"from","type":"quantitative","scale":{"type":"linear","domain":[0,360],"range":[0,6.283185307179586],"nice":false,"zero":false},"stack":null},"theta2":{"field":"to"},"radius":{"field":"count","type":"quantitative","stack":null,"scale":{"type":"linear","domain":[0,50],"range":[0,68],"nice":false,"zero":true}}}},
{"data":{"name":"minor"},"mark":{"type":"arc","fill":"transparent","stroke":"#7070ff","strokeWidth":1.3,"strokeDash":[1.5,3]},"encoding":{"theta":{"field":"deg","type":"quantitative","scale":{"type":"linear","domain":[0,360],"range":[0,6.283185307179586],"nice":false,"zero":false},"stack":null},"theta2":{"field":"deg"},"radius":{"datum":50,"type":"quantitative","stack":null,"scale":{"type":"linear","domain":[0,50],"range":[0,68],"nice":false,"zero":true}},"radius2":{"datum":20}}},
{"data":{"values":[{"ring":10},{"ring":20},{"ring":30},{"ring":40},{"ring":50}]},"mark":{"type":"arc","fill":"transparent","stroke":"black","strokeWidth":1.8},"encoding":{"theta":{"datum":0,"type":"quantitative","stack":null,"scale":{"type":"linear","domain":[0,360],"range":[0,6.283185307179586],"nice":false,"zero":false}},"theta2":{"datum":360},"radius":{"field":"ring","type":"quantitative","stack":null,"scale":{"type":"linear","domain":[0,50],"range":[0,68],"nice":false,"zero":true}}}},
{"data":{"name":"major"},"mark":{"type":"arc","fill":"transparent","stroke":"black","strokeWidth":1.8},"encoding":{"theta":{"field":"deg","type":"quantitative","scale":{"type":"linear","domain":[0,360],"range":[0,6.283185307179586],"nice":false,"zero":false},"stack":null},"theta2":{"field":"deg"},"radius":{"datum":50,"type":"quantitative","stack":null,"scale":{"type":"linear","domain":[0,50],"range":[0,68],"nice":false,"zero":true}},"radius2":{"datum":0}}},
{"data":{"name":"ticks"},"mark":{"type":"arc","fill":"transparent","stroke":"black","strokeWidth":1.5,"radiusOffset":3,"radius2Offset":-3},"encoding":{"theta":{"field":"deg","type":"quantitative","scale":{"type":"linear","domain":[0,360],"range":[0,6.283185307179586],"nice":false,"zero":false},"stack":null},"theta2":{"field":"deg"},"radius":{"datum":50,"type":"quantitative","stack":null,"scale":{"type":"linear","domain":[0,50],"range":[0,68],"nice":false,"zero":true}},"radius2":{"datum":50}}},
{"data":{"name":"major"},"mark":{"type":"text","fontSize":18.5,"color":"black","radiusOffset":6,"align":{"expr":"datum.deg == 0 || datum.deg == 180 ? 'center' : (datum.deg < 180 ? 'left' : 'right')"},"baseline":{"expr":"datum.deg == 90 || datum.deg == 270 ? 'middle' : (datum.deg > 90 && datum.deg < 270 ? 'top' : 'bottom')"}},"encoding":{"theta":{"field":"deg","type":"quantitative","scale":{"type":"linear","domain":[0,360],"range":[0,6.283185307179586],"nice":false,"zero":false},"stack":null},"radius":{"datum":50,"type":"quantitative","stack":null,"scale":{"type":"linear","domain":[0,50],"range":[0,68],"nice":false,"zero":true}},"text":{"field":"deg","type":"nominal"}}},
{"data":{"values":[{"v":0}]},"mark":{"type":"point","opacity":0},"encoding":{"y":{"field":"v","type":"quantitative","scale":{"domain":[0,50],"range":[112,42],"nice":false,"zero":false},"axis":{"orient":"right","offset":-86,"values":[0,10,20,30,40,50],"labelFontSize":14,"title":null}}}}
]},
{"width":276,"height":274,"title":{"text":["Cork Alternaria","July 2010"],"offset":-40,"dx":-8},"layer":[
{"data":{"values":[{"from":-11.25,"to":11.25,"count":0},{"from":11.25,"to":33.75,"count":0},{"from":33.75,"to":56.25,"count":1},{"from":56.25,"to":78.75,"count":1},{"from":78.75,"to":101.25,"count":2},{"from":101.25,"to":123.75,"count":3},{"from":123.75,"to":146.25,"count":33},{"from":146.25,"to":168.75,"count":39},{"from":168.75,"to":191.25,"count":12},{"from":191.25,"to":213.75,"count":3},{"from":213.75,"to":236.25,"count":2},{"from":236.25,"to":258.75,"count":2},{"from":258.75,"to":281.25,"count":2},{"from":281.25,"to":303.75,"count":7},{"from":303.75,"to":326.25,"count":3},{"from":326.25,"to":348.75,"count":2}]},"mark":{"type":"arc","fill":"#ff0000","stroke":null},"encoding":{"theta":{"field":"from","type":"quantitative","scale":{"type":"linear","domain":[0,360],"range":[0,6.283185307179586],"nice":false,"zero":false},"stack":null},"theta2":{"field":"to"},"radius":{"field":"count","type":"quantitative","stack":null,"scale":{"type":"linear","domain":[0,50],"range":[0,66],"nice":false,"zero":true}}}},
{"data":{"name":"minor"},"mark":{"type":"arc","fill":"transparent","stroke":"#7070ff","strokeWidth":1.3,"strokeDash":[1.5,3]},"encoding":{"theta":{"field":"deg","type":"quantitative","scale":{"type":"linear","domain":[0,360],"range":[0,6.283185307179586],"nice":false,"zero":false},"stack":null},"theta2":{"field":"deg"},"radius":{"datum":50,"type":"quantitative","stack":null,"scale":{"type":"linear","domain":[0,50],"range":[0,66],"nice":false,"zero":true}},"radius2":{"datum":20}}},
{"data":{"values":[{"ring":10},{"ring":20},{"ring":30},{"ring":40},{"ring":50}]},"mark":{"type":"arc","fill":"transparent","stroke":"black","strokeWidth":1.8},"encoding":{"theta":{"datum":0,"type":"quantitative","stack":null,"scale":{"type":"linear","domain":[0,360],"range":[0,6.283185307179586],"nice":false,"zero":false}},"theta2":{"datum":360},"radius":{"field":"ring","type":"quantitative","stack":null,"scale":{"type":"linear","domain":[0,50],"range":[0,66],"nice":false,"zero":true}}}},
{"data":{"name":"major"},"mark":{"type":"arc","fill":"transparent","stroke":"black","strokeWidth":1.8},"encoding":{"theta":{"field":"deg","type":"quantitative","scale":{"type":"linear","domain":[0,360],"range":[0,6.283185307179586],"nice":false,"zero":false},"stack":null},"theta2":{"field":"deg"},"radius":{"datum":50,"type":"quantitative","stack":null,"scale":{"type":"linear","domain":[0,50],"range":[0,66],"nice":false,"zero":true}},"radius2":{"datum":0}}},
{"data":{"name":"ticks"},"mark":{"type":"arc","fill":"transparent","stroke":"black","strokeWidth":1.5,"radiusOffset":3,"radius2Offset":-3},"encoding":{"theta":{"field":"deg","type":"quantitative","scale":{"type":"linear","domain":[0,360],"range":[0,6.283185307179586],"nice":false,"zero":false},"stack":null},"theta2":{"field":"deg"},"radius":{"datum":50,"type":"quantitative","stack":null,"scale":{"type":"linear","domain":[0,50],"range":[0,66],"nice":false,"zero":true}},"radius2":{"datum":50}}},
{"data":{"name":"major"},"mark":{"type":"text","fontSize":18.5,"color":"black","radiusOffset":7,"align":{"expr":"datum.deg == 0 || datum.deg == 180 ? 'center' : (datum.deg < 180 ? 'left' : 'right')"},"baseline":{"expr":"datum.deg == 90 || datum.deg == 270 ? 'middle' : (datum.deg > 90 && datum.deg < 270 ? 'top' : 'bottom')"}},"encoding":{"theta":{"field":"deg","type":"quantitative","scale":{"type":"linear","domain":[0,360],"range":[0,6.283185307179586],"nice":false,"zero":false},"stack":null},"radius":{"datum":50,"type":"quantitative","stack":null,"scale":{"type":"linear","domain":[0,50],"range":[0,66],"nice":false,"zero":true}},"text":{"field":"deg","type":"nominal"}}},
{"data":{"values":[{"v":0}]},"mark":{"type":"point","opacity":0},"encoding":{"y":{"field":"v","type":"quantitative","scale":{"domain":[0,50],"range":[109,40],"nice":false,"zero":false},"axis":{"orient":"right","offset":-52,"values":[0,10,20,30,40,50],"labelFontSize":14,"title":null}}}}
]},
{"width":244,"height":212,"title":{"text":["Cork Wind Direction","May 2010"],"offset":-4,"dx":16},"layer":[
{"data":{"values":[{"from":-11.25,"to":11.25,"count":5},{"from":11.25,"to":33.75,"count":4},{"from":33.75,"to":56.25,"count":4},{"from":56.25,"to":78.75,"count":5},{"from":78.75,"to":101.25,"count":6},{"from":101.25,"to":123.75,"count":13},{"from":123.75,"to":146.25,"count":13},{"from":146.25,"to":168.75,"count":10},{"from":168.75,"to":191.25,"count":6},{"from":191.25,"to":213.75,"count":5},{"from":213.75,"to":236.25,"count":7},{"from":236.25,"to":258.75,"count":11},{"from":258.75,"to":281.25,"count":14.5},{"from":281.25,"to":303.75,"count":7},{"from":303.75,"to":326.25,"count":5},{"from":326.25,"to":348.75,"count":5}]},"mark":{"type":"arc","fill":"#33ffff","stroke":"#ff0000","strokeWidth":2},"encoding":{"theta":{"field":"from","type":"quantitative","scale":{"type":"linear","domain":[0,360],"range":[0,6.283185307179586],"nice":false,"zero":false},"stack":null},"theta2":{"field":"to"},"radius":{"field":"count","type":"quantitative","stack":null,"scale":{"type":"linear","domain":[0,15],"range":[0,77],"nice":false,"zero":true}}}},
{"data":{"name":"minor"},"mark":{"type":"arc","fill":"transparent","stroke":"#7070ff","strokeWidth":1.3,"strokeDash":[1.5,3]},"encoding":{"theta":{"field":"deg","type":"quantitative","scale":{"type":"linear","domain":[0,360],"range":[0,6.283185307179586],"nice":false,"zero":false},"stack":null},"theta2":{"field":"deg"},"radius":{"datum":15,"type":"quantitative","stack":null,"scale":{"type":"linear","domain":[0,15],"range":[0,77],"nice":false,"zero":true}},"radius2":{"datum":10}}},
{"data":{"values":[{"ring":5},{"ring":10},{"ring":15}]},"mark":{"type":"arc","fill":"transparent","stroke":"black","strokeWidth":1.8},"encoding":{"theta":{"datum":0,"type":"quantitative","stack":null,"scale":{"type":"linear","domain":[0,360],"range":[0,6.283185307179586],"nice":false,"zero":false}},"theta2":{"datum":360},"radius":{"field":"ring","type":"quantitative","stack":null,"scale":{"type":"linear","domain":[0,15],"range":[0,77],"nice":false,"zero":true}}}},
{"data":{"name":"major"},"mark":{"type":"arc","fill":"transparent","stroke":"black","strokeWidth":1.8},"encoding":{"theta":{"field":"deg","type":"quantitative","scale":{"type":"linear","domain":[0,360],"range":[0,6.283185307179586],"nice":false,"zero":false},"stack":null},"theta2":{"field":"deg"},"radius":{"datum":15,"type":"quantitative","stack":null,"scale":{"type":"linear","domain":[0,15],"range":[0,77],"nice":false,"zero":true}},"radius2":{"datum":0}}},
{"data":{"name":"ticks"},"mark":{"type":"arc","fill":"transparent","stroke":"black","strokeWidth":1.5,"radiusOffset":3,"radius2Offset":-3},"encoding":{"theta":{"field":"deg","type":"quantitative","scale":{"type":"linear","domain":[0,360],"range":[0,6.283185307179586],"nice":false,"zero":false},"stack":null},"theta2":{"field":"deg"},"radius":{"datum":15,"type":"quantitative","stack":null,"scale":{"type":"linear","domain":[0,15],"range":[0,77],"nice":false,"zero":true}},"radius2":{"datum":15}}},
{"data":{"name":"major"},"mark":{"type":"text","fontSize":18.5,"color":"black","radiusOffset":7,"align":{"expr":"datum.deg == 0 || datum.deg == 180 ? 'center' : (datum.deg < 180 ? 'left' : 'right')"},"baseline":{"expr":"datum.deg == 90 || datum.deg == 270 ? 'middle' : (datum.deg > 90 && datum.deg < 270 ? 'top' : 'bottom')"}},"encoding":{"theta":{"field":"deg","type":"quantitative","scale":{"type":"linear","domain":[0,360],"range":[0,6.283185307179586],"nice":false,"zero":false},"stack":null},"radius":{"datum":15,"type":"quantitative","stack":null,"scale":{"type":"linear","domain":[0,15],"range":[0,77],"nice":false,"zero":true}},"text":{"field":"deg","type":"nominal"}}},
{"data":{"values":[{"v":0}]},"mark":{"type":"point","opacity":0},"encoding":{"y":{"field":"v","type":"quantitative","scale":{"domain":[0,15],"range":[84,7],"nice":false,"zero":false},"axis":{"orient":"right","offset":-28,"values":[0,5,10,15],"title":null}}}}
]},
{"width":324,"height":188,"title":{"text":["Cork Wind Direction","June 2010"],"offset":-5,"dx":18},"layer":[
{"data":{"values":[{"from":-11.25,"to":11.25,"count":4},{"from":11.25,"to":33.75,"count":3},{"from":33.75,"to":56.25,"count":3},{"from":56.25,"to":78.75,"count":4},{"from":78.75,"to":101.25,"count":6},{"from":101.25,"to":123.75,"count":12},{"from":123.75,"to":146.25,"count":18},{"from":146.25,"to":168.75,"count":15},{"from":168.75,"to":191.25,"count":8},{"from":191.25,"to":213.75,"count":5},{"from":213.75,"to":236.25,"count":4},{"from":236.25,"to":258.75,"count":4},{"from":258.75,"to":281.25,"count":5},{"from":281.25,"to":303.75,"count":3},{"from":303.75,"to":326.25,"count":3},{"from":326.25,"to":348.75,"count":3}]},"mark":{"type":"arc","fill":"#33ffff","stroke":"#ff0000","strokeWidth":2},"encoding":{"theta":{"field":"from","type":"quantitative","scale":{"type":"linear","domain":[0,360],"range":[0,6.283185307179586],"nice":false,"zero":false},"stack":null},"theta2":{"field":"to"},"radius":{"field":"count","type":"quantitative","stack":null,"scale":{"type":"linear","domain":[0,20],"range":[0,74],"nice":false,"zero":true}}}},
{"data":{"name":"minor"},"mark":{"type":"arc","fill":"transparent","stroke":"#7070ff","strokeWidth":1.3,"strokeDash":[1.5,3]},"encoding":{"theta":{"field":"deg","type":"quantitative","scale":{"type":"linear","domain":[0,360],"range":[0,6.283185307179586],"nice":false,"zero":false},"stack":null},"theta2":{"field":"deg"},"radius":{"datum":20,"type":"quantitative","stack":null,"scale":{"type":"linear","domain":[0,20],"range":[0,74],"nice":false,"zero":true}},"radius2":{"datum":10}}},
{"data":{"values":[{"ring":5},{"ring":10},{"ring":15},{"ring":20}]},"mark":{"type":"arc","fill":"transparent","stroke":"black","strokeWidth":1.8},"encoding":{"theta":{"datum":0,"type":"quantitative","stack":null,"scale":{"type":"linear","domain":[0,360],"range":[0,6.283185307179586],"nice":false,"zero":false}},"theta2":{"datum":360},"radius":{"field":"ring","type":"quantitative","stack":null,"scale":{"type":"linear","domain":[0,20],"range":[0,74],"nice":false,"zero":true}}}},
{"data":{"name":"major"},"mark":{"type":"arc","fill":"transparent","stroke":"black","strokeWidth":1.8},"encoding":{"theta":{"field":"deg","type":"quantitative","scale":{"type":"linear","domain":[0,360],"range":[0,6.283185307179586],"nice":false,"zero":false},"stack":null},"theta2":{"field":"deg"},"radius":{"datum":20,"type":"quantitative","stack":null,"scale":{"type":"linear","domain":[0,20],"range":[0,74],"nice":false,"zero":true}},"radius2":{"datum":0}}},
{"data":{"name":"ticks"},"mark":{"type":"arc","fill":"transparent","stroke":"black","strokeWidth":1.5,"radiusOffset":3,"radius2Offset":-3},"encoding":{"theta":{"field":"deg","type":"quantitative","scale":{"type":"linear","domain":[0,360],"range":[0,6.283185307179586],"nice":false,"zero":false},"stack":null},"theta2":{"field":"deg"},"radius":{"datum":20,"type":"quantitative","stack":null,"scale":{"type":"linear","domain":[0,20],"range":[0,74],"nice":false,"zero":true}},"radius2":{"datum":20}}},
{"data":{"name":"major"},"mark":{"type":"text","fontSize":18.5,"color":"black","radiusOffset":3,"align":{"expr":"datum.deg == 0 || datum.deg == 180 ? 'center' : (datum.deg < 180 ? 'left' : 'right')"},"baseline":{"expr":"datum.deg == 90 || datum.deg == 270 ? 'middle' : (datum.deg > 90 && datum.deg < 270 ? 'top' : 'bottom')"}},"encoding":{"theta":{"field":"deg","type":"quantitative","scale":{"type":"linear","domain":[0,360],"range":[0,6.283185307179586],"nice":false,"zero":false},"stack":null},"radius":{"datum":20,"type":"quantitative","stack":null,"scale":{"type":"linear","domain":[0,20],"range":[0,74],"nice":false,"zero":true}},"text":{"field":"deg","type":"nominal"}}},
{"data":{"values":[{"v":0}]},"mark":{"type":"point","opacity":0},"encoding":{"y":{"field":"v","type":"quantitative","scale":{"domain":[0,20],"range":[82,0],"nice":false,"zero":false},"axis":{"orient":"right","offset":-67,"values":[0,5,10,15,20],"title":null}}}}
]},
{"width":286,"height":196,"title":{"text":["Cork Wind Direction","July 2010"],"offset":-31,"dx":6},"layer":[
{"data":{"values":[{"from":-11.25,"to":11.25,"count":2},{"from":11.25,"to":33.75,"count":2},{"from":33.75,"to":56.25,"count":2},{"from":56.25,"to":78.75,"count":2},{"from":78.75,"to":101.25,"count":3},{"from":101.25,"to":123.75,"count":6},{"from":123.75,"to":146.25,"count":8},{"from":146.25,"to":168.75,"count":16},{"from":168.75,"to":191.25,"count":19},{"from":191.25,"to":213.75,"count":17},{"from":213.75,"to":236.25,"count":8},{"from":236.25,"to":258.75,"count":4},{"from":258.75,"to":281.25,"count":3},{"from":281.25,"to":303.75,"count":2},{"from":303.75,"to":326.25,"count":2},{"from":326.25,"to":348.75,"count":2}]},"mark":{"type":"arc","fill":"#33ffff","stroke":"#ff0000","strokeWidth":2},"encoding":{"theta":{"field":"from","type":"quantitative","scale":{"type":"linear","domain":[0,360],"range":[0,6.283185307179586],"nice":false,"zero":false},"stack":null},"theta2":{"field":"to"},"radius":{"field":"count","type":"quantitative","stack":null,"scale":{"type":"linear","domain":[0,20],"range":[0,71],"nice":false,"zero":true}}}},
{"data":{"name":"minor"},"mark":{"type":"arc","fill":"transparent","stroke":"#7070ff","strokeWidth":1.3,"strokeDash":[1.5,3]},"encoding":{"theta":{"field":"deg","type":"quantitative","scale":{"type":"linear","domain":[0,360],"range":[0,6.283185307179586],"nice":false,"zero":false},"stack":null},"theta2":{"field":"deg"},"radius":{"datum":20,"type":"quantitative","stack":null,"scale":{"type":"linear","domain":[0,20],"range":[0,71],"nice":false,"zero":true}},"radius2":{"datum":10}}},
{"data":{"values":[{"ring":5},{"ring":10},{"ring":15},{"ring":20}]},"mark":{"type":"arc","fill":"transparent","stroke":"black","strokeWidth":1.8},"encoding":{"theta":{"datum":0,"type":"quantitative","stack":null,"scale":{"type":"linear","domain":[0,360],"range":[0,6.283185307179586],"nice":false,"zero":false}},"theta2":{"datum":360},"radius":{"field":"ring","type":"quantitative","stack":null,"scale":{"type":"linear","domain":[0,20],"range":[0,71],"nice":false,"zero":true}}}},
{"data":{"name":"major"},"mark":{"type":"arc","fill":"transparent","stroke":"black","strokeWidth":1.8},"encoding":{"theta":{"field":"deg","type":"quantitative","scale":{"type":"linear","domain":[0,360],"range":[0,6.283185307179586],"nice":false,"zero":false},"stack":null},"theta2":{"field":"deg"},"radius":{"datum":20,"type":"quantitative","stack":null,"scale":{"type":"linear","domain":[0,20],"range":[0,71],"nice":false,"zero":true}},"radius2":{"datum":0}}},
{"data":{"name":"ticks"},"mark":{"type":"arc","fill":"transparent","stroke":"black","strokeWidth":1.5,"radiusOffset":3,"radius2Offset":-3},"encoding":{"theta":{"field":"deg","type":"quantitative","scale":{"type":"linear","domain":[0,360],"range":[0,6.283185307179586],"nice":false,"zero":false},"stack":null},"theta2":{"field":"deg"},"radius":{"datum":20,"type":"quantitative","stack":null,"scale":{"type":"linear","domain":[0,20],"range":[0,71],"nice":false,"zero":true}},"radius2":{"datum":20}}},
{"data":{"name":"major"},"mark":{"type":"text","fontSize":18.5,"color":"black","radiusOffset":3,"align":{"expr":"datum.deg == 0 || datum.deg == 180 ? 'center' : (datum.deg < 180 ? 'left' : 'right')"},"baseline":{"expr":"datum.deg == 90 || datum.deg == 270 ? 'middle' : (datum.deg > 90 && datum.deg < 270 ? 'top' : 'bottom')"}},"encoding":{"theta":{"field":"deg","type":"quantitative","scale":{"type":"linear","domain":[0,360],"range":[0,6.283185307179586],"nice":false,"zero":false},"stack":null},"radius":{"datum":20,"type":"quantitative","stack":null,"scale":{"type":"linear","domain":[0,20],"range":[0,71],"nice":false,"zero":true}},"text":{"field":"deg","type":"nominal"}}},
{"data":{"values":[{"v":0}]},"mark":{"type":"point","opacity":0},"encoding":{"y":{"field":"v","type":"quantitative","scale":{"domain":[0,20],"range":[62,-20],"nice":false,"zero":false},"axis":{"orient":"right","offset":-58,"values":[0,5,10,15,20],"title":null}}}}
]}
]
}
